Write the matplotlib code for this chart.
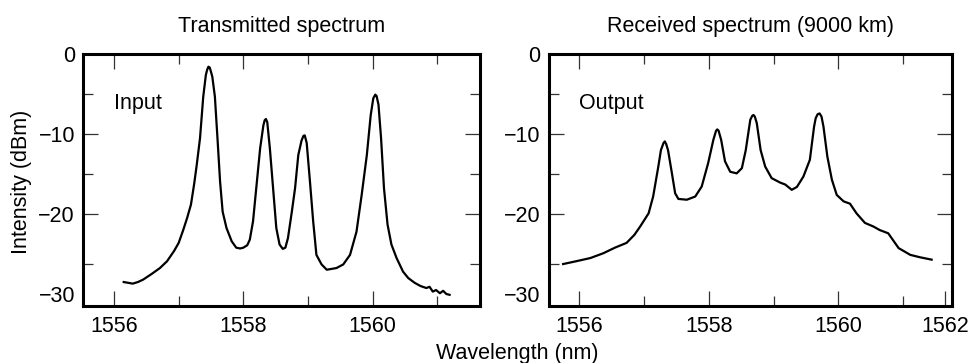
import matplotlib
matplotlib.use("Agg")
import matplotlib.pyplot as plt
from matplotlib.ticker import FixedLocator, FixedFormatter

plt.rcParams['font.family'] = ['Liberation Sans', 'DejaVu Sans']

# ---- data ----
input_wl = [1556.15, 1556.22, 1556.29, 1556.37, 1556.45, 1556.58, 1556.71, 1556.82, 1556.93, 1557.00,
            1557.07, 1557.13, 1557.19, 1557.24, 1557.28, 1557.33, 1557.38, 1557.42, 1557.44, 1557.46,
            1557.48, 1557.50, 1557.52, 1557.56, 1557.60, 1557.64, 1557.68, 1557.74, 1557.82, 1557.89,
            1557.95, 1558.00, 1558.06, 1558.10, 1558.15, 1558.21, 1558.26, 1558.31, 1558.33, 1558.35,
            1558.37, 1558.41, 1558.46, 1558.51, 1558.56, 1558.61, 1558.65, 1558.69, 1558.75, 1558.80,
            1558.85, 1558.90, 1558.93, 1558.95, 1558.98, 1559.03, 1559.08, 1559.13, 1559.21, 1559.29,
            1559.37, 1559.44, 1559.545, 1559.65, 1559.75, 1559.83, 1559.91, 1559.97, 1560.01, 1560.04,
            1560.06, 1560.09, 1560.13, 1560.175, 1560.23, 1560.29, 1560.37, 1560.47, 1560.55, 1560.65,
            1560.74, 1560.83, 1560.88, 1560.93, 1560.98, 1561.04, 1561.09, 1561.14, 1561.19]
input_db = [-28.5, -28.6, -28.7, -28.5, -28.2, -27.5, -26.75, -25.9, -24.6, -23.6,
            -22.0, -20.5, -18.8, -16.2, -13.8, -10.5, -5.3, -2.6, -1.95, -1.55,
            -1.65, -2.2, -2.8, -5.3, -10.5, -15.9, -19.7, -21.75, -23.4, -24.2,
            -24.3, -24.2, -23.9, -23.2, -20.9, -15.9, -11.75, -8.9, -8.25, -8.1,
            -8.5, -11.75, -16.75, -21.75, -23.8, -24.35, -24.2, -23.0, -19.7, -16.75,
            -12.6, -10.8, -10.2, -10.15, -11.1, -15.9, -20.9, -25.1, -26.3, -26.96,
            -26.85, -26.75, -26.3, -25.1, -22.2, -17.6, -12.6, -7.6, -5.5, -5.05,
            -5.2, -6.3, -10.5, -16.75, -21.3, -23.8, -25.5, -27.2, -28.0, -28.6,
            -29.0, -29.25, -29.1, -29.7, -29.5, -29.9, -29.6, -30.0, -30.1]

output_wl = [1555.75, 1555.95, 1556.17, 1556.37, 1556.55, 1556.73, 1556.85, 1556.94, 1557.07, 1557.14,
             1557.22, 1557.26, 1557.30, 1557.32, 1557.34, 1557.37, 1557.43, 1557.48, 1557.53, 1557.66,
             1557.79, 1557.89, 1557.99, 1558.07, 1558.11, 1558.13, 1558.15, 1558.19, 1558.25, 1558.33,
             1558.43, 1558.51, 1558.57, 1558.64, 1558.67, 1558.69, 1558.71, 1558.74, 1558.80, 1558.87,
             1558.97, 1559.10, 1559.18, 1559.28, 1559.36, 1559.46, 1559.56, 1559.625, 1559.65, 1559.68,
             1559.71, 1559.74, 1559.77, 1559.83, 1559.90, 1559.975, 1560.08, 1560.18, 1560.28, 1560.41,
             1560.54, 1560.64, 1560.77, 1560.93, 1561.11, 1561.26, 1561.44]
output_db = [-26.25, -25.9, -25.5, -24.9, -24.2, -23.6, -22.6, -21.55, -19.9, -17.8,
             -14.05, -12.0, -11.1, -10.9, -11.2, -12.0, -14.9, -17.4, -18.1, -18.2,
             -17.8, -16.55, -13.6, -10.7, -9.6, -9.4, -9.55, -10.7, -13.4, -14.7,
             -14.9, -14.25, -12.0, -8.2, -7.7, -7.6, -7.8, -8.6, -12.0, -14.05,
             -15.5, -16.05, -16.3, -16.96, -16.6, -15.3, -13.2, -9.05, -8.0, -7.5,
             -7.4, -7.8, -9.05, -12.8, -15.7, -17.6, -18.4, -18.7, -19.9, -21.1,
             -21.55, -22.0, -22.4, -24.25, -25.1, -25.4, -25.7]

titles = ["Transmitted spectrum", "Received spectrum (9000 km)"]
panel_labels = ["Input", "Output"]
ytick_major = [0, -10, -20, -30]
ytick_labels = ["0", "\u221210", "\u221220", "\u221230"]
ytick_minor = [-5, -15, -26.3]
xticks_left = [1556, 1558, 1560]
xlabels_left = ["1556", "1558", "1560"]
xticks_right = [1556, 1558, 1560, 1561.65]
xlabels_right = ["1556", "1558", "1560", "1562"]
xtick_minor = [1557, 1559, 1561]

FS = 15.5

fig = plt.figure(figsize=(9.69, 3.63), dpi=100)
ax1 = fig.add_axes([83.3/969, 1-306/363, (480-83.3)/969, (306-54.3)/363])
ax2 = fig.add_axes([549/969, 1-306/363, (951.7-549)/969, (306-54.3)/363])

panels = [
    (ax1, input_wl, input_db, (1555.525, 1561.66), xticks_left, xlabels_left),
    (ax2, output_wl, output_db, (1555.532, 1561.75), xticks_right, xlabels_right),
]

for i, (ax, xs, ys, xl, xt, xlab) in enumerate(panels):
    ax.plot(xs, ys, color='black', lw=1.6, solid_joinstyle='round')
    ax.set_xlim(*xl)
    ax.set_ylim(-31.5, 0)
    ax.xaxis.set_major_locator(FixedLocator(xt))
    ax.xaxis.set_major_formatter(FixedFormatter(xlab))
    ax.xaxis.set_minor_locator(FixedLocator(xtick_minor))
    ax.yaxis.set_major_locator(FixedLocator(ytick_major))
    ax.yaxis.set_major_formatter(FixedFormatter(ytick_labels))
    ax.yaxis.set_minor_locator(FixedLocator(ytick_minor))
    ax.tick_params(which='both', direction='in', top=True, right=True,
                   color='#333333', labelsize=FS)
    ax.tick_params(which='major', length=11, width=0.9)
    ax.tick_params(which='minor', length=7, width=0.9)
    ax.tick_params(axis='x', which='major', pad=7)
    ax.tick_params(axis='y', which='major', pad=6)
    for t, loc in zip(ax.yaxis.get_major_ticks(), ytick_major):
        if loc in (0, -30):
            t.tick1line.set_visible(False)
            t.tick2line.set_visible(False)
    for t, loc in zip(ax.xaxis.get_major_ticks(), xt):
        if loc > 1561:
            t.tick2line.set_visible(False)
    for s in ax.spines.values():
        s.set_linewidth(2.2)
    ax.set_title(titles[i], fontsize=FS, pad=16)
    ax.text(1556.0, -6.9, panel_labels[i], fontsize=FS, ha='left', va='baseline')

fig.text(22/969, 1-182/363, "Intensity (dBm)", rotation=90, fontsize=FS,
         ha='center', va='center')
fig.text(517/969, 1-353/363, "Wavelength (nm)", fontsize=FS, ha='center', va='center')

fig.savefig("out.png", dpi=100)
